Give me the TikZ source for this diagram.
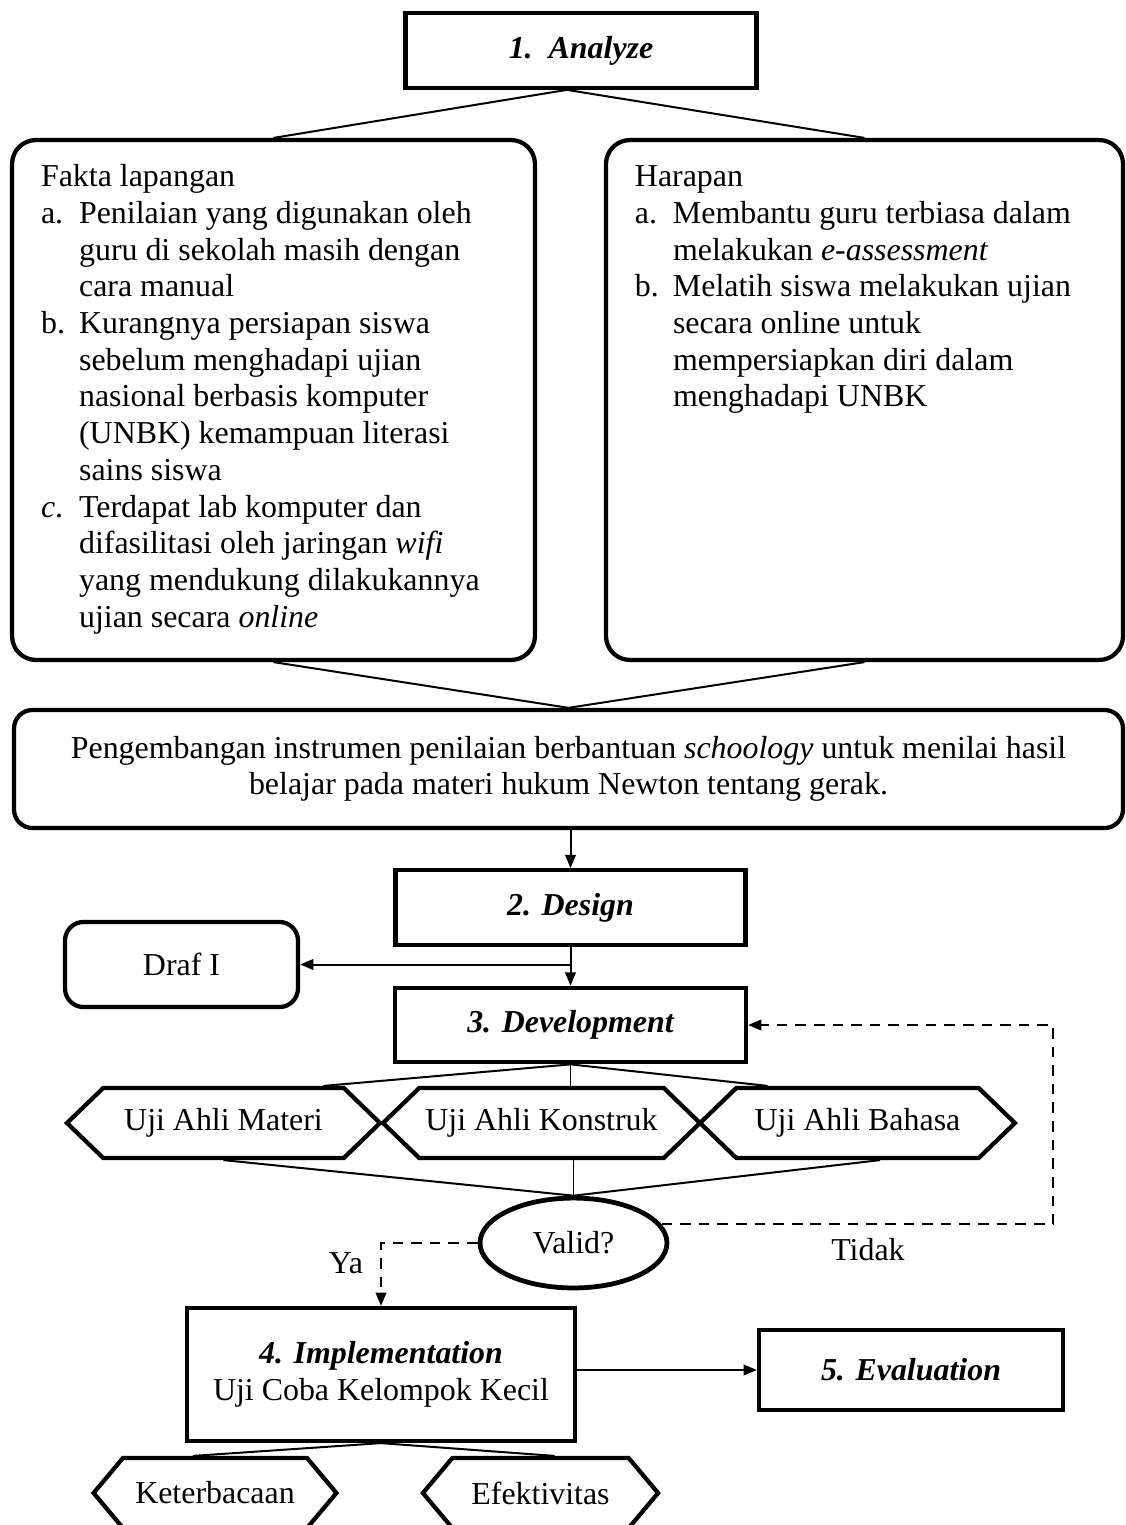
\documentclass[tikz,border=0pt]{standalone}
\usepackage{fontspec}
\setmainfont{Liberation Serif}
\usetikzlibrary{arrows.meta,positioning,calc,shapes.geometric,shapes.symbols}
\tikzset{
  base/.style={font=\fontsize{12}{13.8}\selectfont, text=black},
  phase/.style={base, draw, line width=1.6pt, minimum width=132pt, minimum height=28pt, align=center, inner sep=2pt, font=\fontsize{12}{13.8}\selectfont\bfseries\itshape},
  panel/.style={base, draw, line width=1.6pt, rounded corners=9pt, inner xsep=10.9pt, inner ysep=7.9pt},
  roundbox/.style={base, draw, line width=1.6pt, rounded corners=7pt, align=center},
  hexa/.style={base, draw, line width=1.6pt, signal, signal to=west and east, signal pointer angle=88, minimum height=26.3pt, inner sep=1pt},
  decision/.style={base, draw, ellipse, line width=1.8pt, minimum width=70.3pt, minimum height=33.8pt, inner sep=0pt},
  link/.style={line width=0.75pt},
  thinlink/.style={line width=0.5pt},
  arrow/.style={-{Triangle[length=5pt,width=4pt]}, line width=0.75pt},
  dashedarrow/.style={arrow, dash pattern=on 4pt off 3pt},
}

\begin{document}
\begin{tikzpicture}[x=0.376pt,y=-0.376pt]
  \path[use as bounding box, fill=white] (0,0) rectangle (1125,1525);
  \clip (0,0) rectangle (1125,1525);

  \node[phase] (analyze) at (581,50.5) {1.\ \ Analyze};

  \node[panel, minimum width=196.6pt] (fakta) at (273.5,400) {\begin{minipage}[c][179.7pt][t]{174.8pt}
    \begin{tabular}{@{}p{14.3pt}@{}l@{}}
      \multicolumn{2}{@{}l@{}}{Fakta lapangan}\\
      a. & Penilaian yang digunakan oleh\\
         & guru di sekolah masih dengan\\
         & cara manual\\
      b. & Kurangnya persiapan siswa\\
         & sebelum menghadapi ujian\\
         & nasional berbasis komputer\\
         & (UNBK) kemampuan literasi\\
         & sains siswa\\
      \textit{c}. & Terdapat lab komputer dan\\
         & difasilitasi oleh jaringan \textit{wifi}\\
         & yang mendukung dilakukannya\\
         & ujian secara \textit{online}
    \end{tabular}\end{minipage}};
  \node[panel, minimum width=194.4pt] (harapan) at (864.5,400) {\begin{minipage}[c][179.7pt][t]{172.6pt}
    \begin{tabular}{@{}p{14.3pt}@{}l@{}}
      \multicolumn{2}{@{}l@{}}{Harapan}\\
      a. & Membantu guru terbiasa dalam\\
         & melakukan \textit{e-assessment}\\
      b. & Melatih siswa melakukan ujian\\
         & secara online untuk\\
         & mempersiapkan diri dalam\\
         & menghadapi UNBK
    \end{tabular}\end{minipage}};
  \draw[link] ([xshift=-5.3pt]analyze.south) -- (fakta.north);
  \draw[link] ([xshift=-5.3pt]analyze.south) -- (harapan.north);

  \node[roundbox, minimum width=417pt, minimum height=44.4pt] (pengembangan) at (568.5,769) {Pengembangan instrumen penilaian berbantuan \textit{schoology} untuk menilai hasil\\belajar pada materi hukum Newton tentang gerak.};
  \draw[link] (fakta.south) -- (pengembangan.north);
  \draw[link] (harapan.south) -- (pengembangan.north);

  \node[phase, minimum width=131.6pt] (design) at (570.5,907.5) {2. Design};
  \node[roundbox, minimum width=87.6pt, minimum height=32pt] (draf) at (181.5,964.5) {Draf I};
  \node[phase] (development) at (570.5,1025) {3. Development};
  \draw[arrow] (design.north |- pengembangan.south) -- (design.north);
  \draw[arrow] (design.south) -- (development.north);
  \draw[arrow] (design.south |- draf.east) -- (draf.east);

  \node[hexa, minimum width=117.7pt] (materi) at (223.5,1123) {Uji Ahli Materi};
  \node[hexa, minimum width=119.2pt] (konstruk) at (541.5,1123) {Uji Ahli Konstruk};
  \node[hexa, minimum width=118.4pt] (bahasa) at (857.5,1123) {Uji Ahli Bahasa};
  \draw[link] (development.south) -- ([xshift=37.6pt]materi.north);
  \draw[thinlink] (development.south) -- (development.south |- konstruk.north);
  \draw[link] (development.south) -- ([xshift=-33.8pt]bahasa.north);

  \node[decision] (valid) at (573.5,1243) {Valid?};
  \draw[link] (materi.south) -- (valid.north);
  \draw[thinlink] (konstruk.south -| valid.north) -- (valid.north);
  \draw[link] ([xshift=8.5pt]bahasa.south) -- (valid.north);

  \coordinate (loopR) at (1053,1025);
  \draw[dashedarrow] (valid.12) -| (loopR) -- (development.east);
  \node[base] (tidak) at (868,1250) {Tidak};

  \node[phase, minimum width=145.9pt, minimum height=50pt] (implementation) at (381,1374.5) {4. Implementation\\\normalfont Uji Coba Kelompok Kecil};
  \node[phase, minimum width=114.3pt, minimum height=30.1pt] (evaluation) at (911,1370) {5. Evaluation};
  \draw[dashedarrow] (valid.west) -| (implementation.north);
  \node[base] (ya) at (346,1263) {Ya};
  \draw[arrow] (implementation.east |- evaluation.west) -- (evaluation.west);

  \node[hexa, minimum width=91.3pt, signal pointer angle=100] (keterbacaan) at (215,1493) {Keterbacaan};
  \node[hexa, minimum width=88.4pt, signal pointer angle=100] (efektivitas) at (540.5,1493) {Efektivitas};
  \draw[link] (implementation.south) -- ([xshift=-8.3pt]keterbacaan.north);
  \draw[link] (implementation.south) -- ([xshift=5.3pt]efektivitas.north);
\end{tikzpicture}
\end{document}
